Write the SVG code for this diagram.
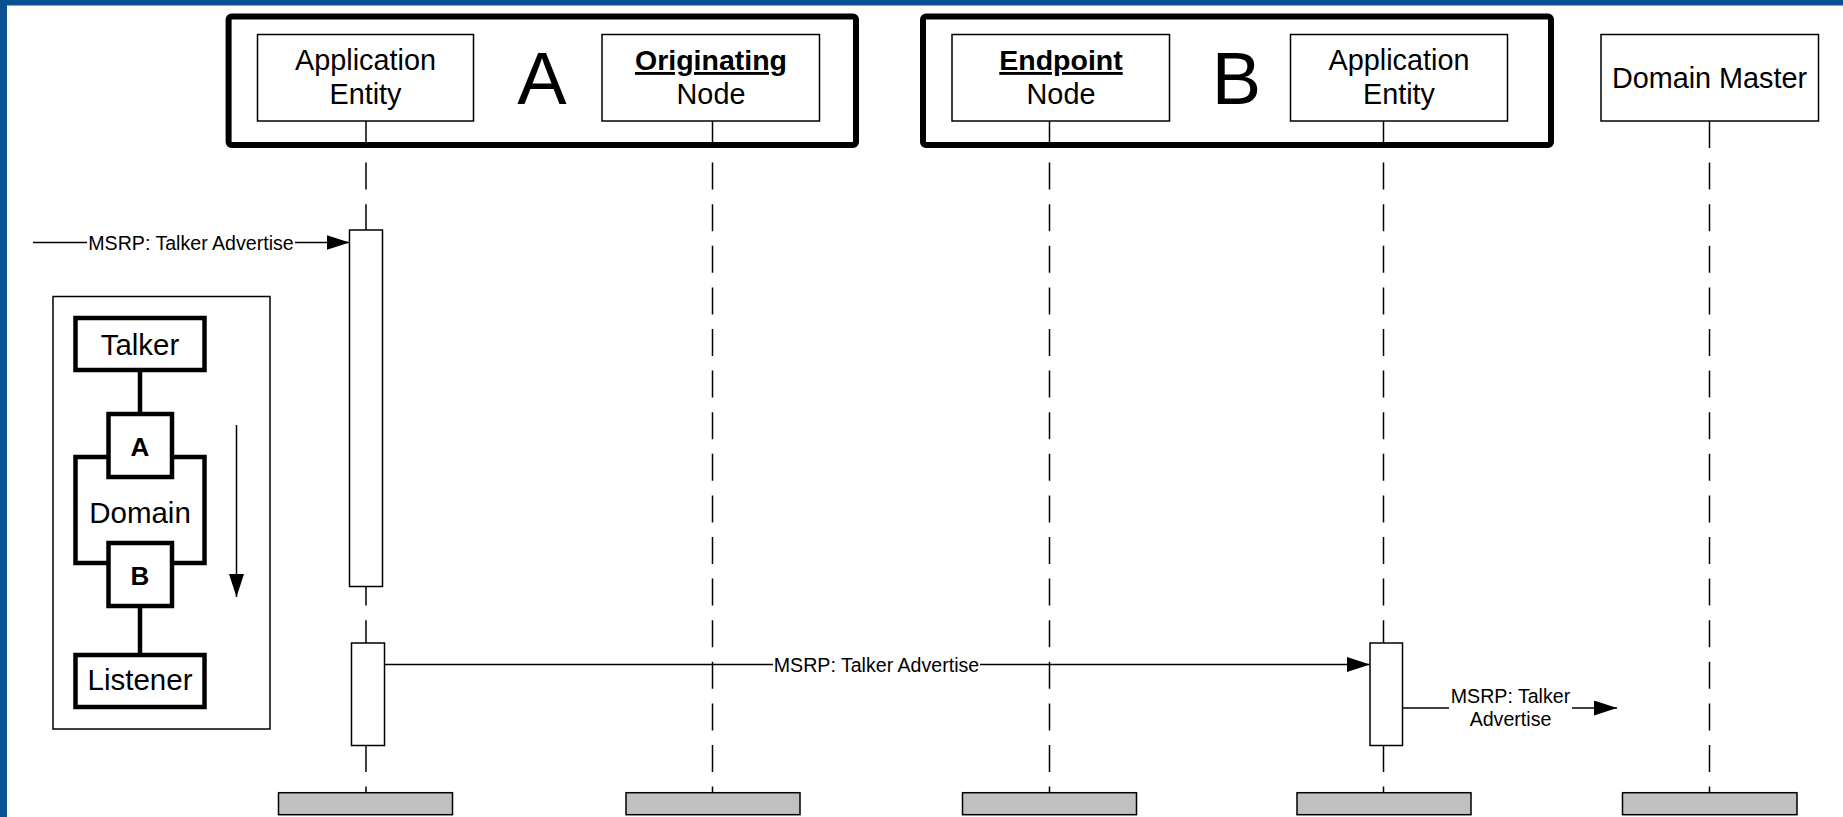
<svg xmlns="http://www.w3.org/2000/svg" width="1843" height="817" viewBox="0 0 1843 817">
<style>
text{font-family:"Liberation Sans",Arial,sans-serif;fill:#000}
.n{font-size:28.8px;text-anchor:middle}
.b{font-size:28.5px;font-weight:bold;text-decoration:underline}
.big{font-size:74px;text-anchor:middle}
.m{font-size:19.6px;text-anchor:middle}
.lg{font-size:29.5px;text-anchor:middle}
.lb{font-size:26px;font-weight:bold;text-anchor:middle}
.box{fill:#fff;stroke:#000;stroke-width:1.5}
.grp{fill:none;stroke:#000;stroke-width:6}
.act{fill:#fff;stroke:#000;stroke-width:1.5}
.end{fill:#c0c0c0;stroke:#000;stroke-width:1.5}
.life{stroke:#000;stroke-width:1.5;stroke-dasharray:27 14.6;fill:none}
.msg{stroke:#000;stroke-width:1.5;fill:none}
.thk{fill:#fff;stroke:#000;stroke-width:4.5}
.thl{stroke:#000;stroke-width:4.5;fill:none}
</style>
<defs>
<marker id="ah" markerUnits="userSpaceOnUse" viewBox="0 0 23 15" refX="23" refY="7.5" markerWidth="23" markerHeight="15" orient="auto">
<path d="M0,0 L23,7.5 L0,15 Z" fill="#000"/>
</marker>
</defs>
<rect x="0" y="0" width="1843" height="817" fill="#fff"/>
<rect x="0" y="0" width="1843" height="5.5" fill="#0a5191"/>
<rect x="0" y="0" width="7" height="817" fill="#0a5191"/>

<g id="lifelines">
<line class="life" x1="366" y1="121" x2="366" y2="793"/>
<line class="life" x1="712.5" y1="121" x2="712.5" y2="793"/>
<line class="life" x1="1049.5" y1="121" x2="1049.5" y2="793"/>
<line class="life" x1="1383.5" y1="121" x2="1383.5" y2="793"/>
<line class="life" x1="1709.5" y1="121" x2="1709.5" y2="793"/>
</g>

<g id="groupA">
<rect class="grp" x="228.6" y="16.5" width="627.4" height="128.5" rx="3"/>
<text class="big" x="542" y="103.5">A</text>
</g>
<g id="groupB">
<rect class="grp" x="923" y="16.5" width="628" height="128.5" rx="3"/>
<text class="big" x="1236.5" y="103.5">B</text>
</g>

<g id="appEntityA">
<rect class="box" x="257.5" y="34.5" width="216" height="86.5"/>
<text class="n" x="365.5" y="70">Application</text>
<text class="n" x="365.5" y="103.5">Entity</text>
</g>
<g id="originatingNode">
<rect class="box" x="602" y="34.5" width="217.5" height="86.5"/>
<text class="n b" x="711" y="70">Originating</text>
<text class="n" x="711" y="103.5">Node</text>
</g>
<g id="endpointNode">
<rect class="box" x="952" y="34.5" width="217.5" height="86.5"/>
<text class="n b" x="1061" y="70">Endpoint</text>
<text class="n" x="1061" y="103.5">Node</text>
</g>
<g id="appEntityB">
<rect class="box" x="1290.5" y="34.5" width="217" height="86.5"/>
<text class="n" x="1399" y="70">Application</text>
<text class="n" x="1399" y="103.5">Entity</text>
</g>
<g id="domainMaster">
<rect class="box" x="1601" y="34.5" width="217.5" height="86.5"/>
<text class="n" x="1709.5" y="87.5">Domain Master</text>
</g>

<g id="activations">
<rect class="act" x="349.5" y="230" width="33" height="356.5"/>
<rect class="act" x="351.5" y="643" width="33" height="102.5"/>
<rect class="act" x="1370" y="643" width="32.5" height="102.5"/>
</g>

<g id="ends">
<rect class="end" x="278.5" y="792.7" width="174" height="22"/>
<rect class="end" x="626" y="792.7" width="174" height="22"/>
<rect class="end" x="962.5" y="792.7" width="174" height="22"/>
<rect class="end" x="1297" y="792.7" width="174" height="22"/>
<rect class="end" x="1622.5" y="792.7" width="174.5" height="22"/>
</g>

<g id="connectors">
<line class="msg" x1="33" y1="242.5" x2="349.5" y2="242.5" marker-end="url(#ah)"/>
<rect x="87" y="232" width="208" height="21" fill="#fff"/>
<text class="m" x="191" y="249.5">MSRP: Talker Advertise</text>
<line class="msg" x1="384.5" y1="664.5" x2="1370" y2="664.5" marker-end="url(#ah)"/>
<rect x="773" y="654" width="207" height="21" fill="#fff"/>
<text class="m" x="876.5" y="671.5">MSRP: Talker Advertise</text>
<line class="msg" x1="1402.5" y1="708" x2="1617" y2="708" marker-end="url(#ah)"/>
<rect x="1449" y="684" width="123" height="46" fill="#fff"/>
<text class="m" x="1510.5" y="702.5">MSRP: Talker</text>
<text class="m" x="1510.5" y="725.5">Advertise</text>
</g>

<g id="legend">
<rect class="box" x="53" y="296.5" width="217" height="432.5"/>
<line class="thl" x1="140" y1="370" x2="140" y2="414"/>
<line class="thl" x1="140" y1="606" x2="140" y2="655"/>
<rect class="thk" x="75.5" y="457" width="129" height="106"/>
<g id="legendTalker">
<rect class="thk" x="75.5" y="318" width="129" height="52"/>
<text class="lg" x="140" y="355">Talker</text>
</g>
<text class="lg" x="140" y="523">Domain</text>
<g id="legendA">
<rect class="thk" x="108.5" y="414" width="63.5" height="63"/>
<text class="lb" x="140" y="455.5">A</text>
</g>
<g id="legendB">
<rect class="thk" x="108.5" y="543" width="63.5" height="63"/>
<text class="lb" x="140" y="585">B</text>
</g>
<g id="legendListener">
<rect class="thk" x="75.5" y="655" width="129" height="52"/>
<text class="lg" x="140" y="690">Listener</text>
</g>
<line class="msg" x1="236.5" y1="425" x2="236.5" y2="597" marker-end="url(#ah)"/>
</g>
</svg>
